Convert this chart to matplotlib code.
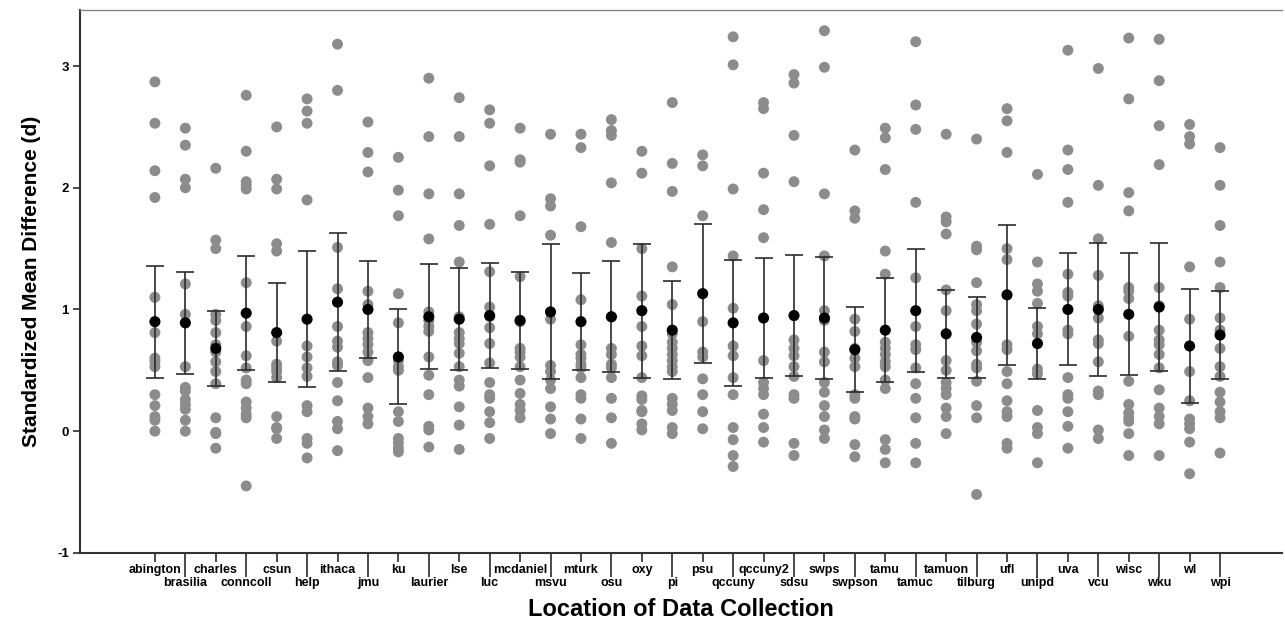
import numpy as np
import matplotlib
matplotlib.use("Agg")
import matplotlib.pyplot as plt

plt.rcParams['font.family'] = ['Liberation Sans', 'DejaVu Sans']

# --- data ---
locations = ["abington", "brasilia", "charles", "conncoll", "csun", "help",
             "ithaca", "jmu", "ku", "laurier", "lse", "luc", "mcdaniel", "msvu",
             "mturk", "osu", "oxy", "pi", "psu", "qccuny", "qccuny2", "sdsu",
             "swps", "swpson", "tamu", "tamuc", "tamuon", "tilburg", "ufl",
             "unipd", "uva", "vcu", "wisc", "wku", "wl", "wpi"]

means = [0.90, 0.89, 0.68, 0.97, 0.81, 0.92, 1.06, 1.00, 0.61, 0.94, 0.92, 0.95,
         0.91, 0.98, 0.90, 0.94, 0.99, 0.83, 1.13, 0.89, 0.93, 0.95, 0.93, 0.67,
         0.83, 0.99, 0.80, 0.77, 1.12, 0.72, 1.00, 1.00, 0.96, 1.02, 0.70, 0.79]

err_half = [0.46, 0.42, 0.31, 0.47, 0.41, 0.56, 0.565, 0.40, 0.39, 0.43, 0.42,
            0.43, 0.40, 0.555, 0.40, 0.455, 0.55, 0.40, 0.57, 0.52, 0.495, 0.50,
            0.505, 0.35, 0.43, 0.505, 0.36, 0.335, 0.575, 0.295, 0.46, 0.545,
            0.50, 0.525, 0.465, 0.365]

# individual effect sizes per location (grey dots)
points = [
    [2.87, 2.53, 2.14, 1.92, 1.10, 0.81, 0.60, 0.57, 0.53, 0.30, 0.21, 0.12, 0.09, 0.00],
    [2.49, 2.35, 2.07, 2.00, 1.21, 0.96, 0.53, 0.36, 0.33, 0.26, 0.22, 0.18, 0.09, 0.00],
    [2.16, 1.57, 1.50, 0.96, 0.91, 0.81, 0.71, 0.65, 0.57, 0.49, 0.39, 0.11, -0.01, -0.02, -0.14],
    [2.76, 2.30, 2.05, 2.02, 1.99, 1.22, 0.86, 0.62, 0.52, 0.42, 0.39, 0.24, 0.19, 0.14, 0.11, -0.45],
    [2.50, 2.07, 1.99, 1.54, 1.48, 0.74, 0.55, 0.52, 0.49, 0.44, 0.12, 0.03, 0.02, -0.06],
    [2.73, 2.63, 2.53, 1.90, 0.70, 0.61, 0.52, 0.45, 0.21, 0.16, -0.06, -0.10, -0.22],
    [3.18, 2.80, 1.51, 1.17, 0.86, 0.74, 0.69, 0.57, 0.54, 0.40, 0.25, 0.08, 0.02, -0.16],
    [2.54, 2.29, 2.13, 1.15, 1.04, 0.81, 0.76, 0.71, 0.65, 0.58, 0.44, 0.19, 0.12, 0.06],
    [2.25, 1.98, 1.77, 1.13, 0.89, 0.58, 0.53, 0.50, 0.16, 0.08, -0.06, -0.10, -0.14, -0.17],
    [2.90, 2.42, 1.95, 1.58, 0.98, 0.91, 0.86, 0.82, 0.61, 0.46, 0.30, 0.04, 0.01, -0.13],
    [2.74, 2.42, 1.95, 1.69, 1.39, 0.94, 0.81, 0.76, 0.72, 0.64, 0.53, 0.42, 0.37, 0.20, 0.05, -0.15],
    [2.64, 2.53, 2.18, 1.70, 1.31, 1.02, 0.94, 0.85, 0.72, 0.56, 0.40, 0.30, 0.27, 0.16, 0.07, -0.06],
    [2.49, 2.23, 2.21, 1.77, 1.27, 0.90, 0.68, 0.65, 0.61, 0.53, 0.42, 0.31, 0.22, 0.17, 0.11],
    [2.44, 1.91, 1.85, 1.61, 0.92, 0.54, 0.49, 0.42, 0.35, 0.20, 0.10, -0.02],
    [2.44, 2.33, 1.68, 1.08, 0.71, 0.63, 0.60, 0.55, 0.52, 0.44, 0.30, 0.27, 0.10, -0.06],
    [2.56, 2.47, 2.43, 2.04, 1.55, 0.94, 0.68, 0.63, 0.55, 0.52, 0.44, 0.27, 0.11, -0.10],
    [2.30, 2.12, 1.50, 1.11, 0.86, 0.70, 0.62, 0.44, 0.29, 0.26, 0.17, 0.16, 0.06, 0.01],
    [2.70, 2.20, 1.97, 1.35, 1.04, 0.80, 0.73, 0.68, 0.63, 0.58, 0.53, 0.49, 0.27, 0.22, 0.17, 0.03, -0.02],
    [2.27, 2.18, 1.77, 0.90, 0.65, 0.61, 0.43, 0.30, 0.16, 0.02],
    [3.24, 3.01, 1.99, 1.44, 1.01, 0.70, 0.62, 0.44, 0.30, 0.03, -0.07, -0.20, -0.29],
    [2.70, 2.65, 2.12, 1.82, 1.59, 0.58, 0.40, 0.35, 0.30, 0.14, 0.03, -0.09],
    [2.93, 2.86, 2.43, 2.05, 0.75, 0.68, 0.62, 0.53, 0.45, 0.30, 0.27, -0.10, -0.20],
    [3.29, 2.99, 1.95, 1.44, 0.99, 0.91, 0.65, 0.57, 0.40, 0.32, 0.21, 0.12, 0.01, -0.06],
    [2.31, 1.81, 1.75, 0.92, 0.82, 0.68, 0.60, 0.53, 0.30, 0.27, 0.12, 0.10, -0.11, -0.21],
    [2.49, 2.41, 2.15, 1.48, 1.29, 0.73, 0.68, 0.63, 0.57, 0.53, 0.42, 0.35, -0.07, -0.15, -0.26],
    [3.20, 2.68, 2.48, 1.88, 1.26, 0.86, 0.71, 0.67, 0.52, 0.39, 0.27, 0.11, -0.10, -0.26],
    [2.44, 1.76, 1.72, 1.62, 1.16, 0.99, 0.58, 0.50, 0.40, 0.35, 0.30, 0.19, 0.12, -0.02],
    [2.40, 1.52, 1.49, 1.22, 1.04, 0.99, 0.88, 0.73, 0.66, 0.55, 0.52, 0.41, 0.21, 0.11, -0.52],
    [2.65, 2.55, 2.29, 1.50, 1.41, 0.71, 0.67, 0.49, 0.39, 0.25, 0.16, 0.12, -0.10, -0.14],
    [2.11, 1.39, 1.21, 1.15, 1.05, 0.86, 0.80, 0.51, 0.47, 0.17, 0.03, -0.02, -0.26],
    [3.13, 2.31, 2.15, 1.88, 1.29, 1.14, 1.11, 0.83, 0.80, 0.44, 0.30, 0.27, 0.16, 0.04, -0.14],
    [2.98, 2.02, 1.58, 1.28, 1.03, 0.93, 0.75, 0.72, 0.57, 0.33, 0.30, 0.01, -0.06],
    [3.23, 2.73, 1.96, 1.81, 1.18, 1.15, 1.09, 0.78, 0.41, 0.22, 0.15, 0.11, 0.08, -0.02, -0.20],
    [3.22, 2.88, 2.51, 2.19, 1.18, 1.03, 0.83, 0.75, 0.71, 0.63, 0.52, 0.34, 0.19, 0.12, 0.06, -0.20],
    [2.52, 2.42, 2.36, 1.35, 0.92, 0.49, 0.25, 0.10, 0.06, 0.02, -0.09, -0.35],
    [2.33, 2.02, 1.69, 1.39, 1.18, 0.93, 0.83, 0.68, 0.53, 0.45, 0.32, 0.24, 0.16, 0.11, -0.18],
]

x = np.arange(len(locations))

fig = plt.figure(figsize=(12.85, 6.29), dpi=100)
ax = fig.add_axes([0.0623, 0.121, 0.9357, 0.863])

# grey dots
for i, vals in enumerate(points):
    ax.scatter(np.full(len(vals), x[i]), vals, s=62, color="#8c8c8c",
               edgecolors="none", zorder=2)

# error bars + means
ax.errorbar(x, means, yerr=err_half, fmt="none", ecolor="#2b2b2b",
            elinewidth=1.2, capsize=6.5, capthick=1.2, zorder=3)
ax.scatter(x, means, s=64, color="black", edgecolors="none", zorder=4)

ax.set_xlim(-2.46, len(locations) - 1 + 2.05)
ax.set_ylim(-1, 3.46)

# two-row category labels: even on major ticks, odd on minor (longer) ticks
ax.set_xticks(x[::2])
ax.set_xticklabels(locations[::2], fontsize=9, fontweight="bold")
ax.set_xticks(x[1::2], minor=True)
ax.set_xticklabels(locations[1::2], minor=True, fontsize=9, fontweight="bold")
ax.tick_params(axis="x", which="major", length=6.5, width=1.2, pad=1.5, color="#2b2b2b")
ax.tick_params(axis="x", which="minor", length=17, width=1.2, pad=0.5, color="#2b2b2b")

ax.set_yticks([-1, 0, 1, 2, 3])
ax.set_yticklabels(["-1", "0", "1", "2", "3"], fontsize=9.5, fontweight="bold")
ax.tick_params(axis="y", length=5, width=1.2, pad=3, color="#2b2b2b")

for side in ["left", "bottom"]:
    ax.spines[side].set_color("#333333")
    ax.spines[side].set_linewidth(1.5)
ax.spines["top"].set_color("#888888")
ax.spines["top"].set_linewidth(1.0)
ax.spines["right"].set_visible(False)

ax.set_ylabel("Standardized Mean Difference (d)", fontsize=15, fontweight="bold", labelpad=12)
ax.set_xlabel("Location of Data Collection", fontsize=17, fontweight="bold", labelpad=6)

fig.savefig("out.png", dpi=100)
